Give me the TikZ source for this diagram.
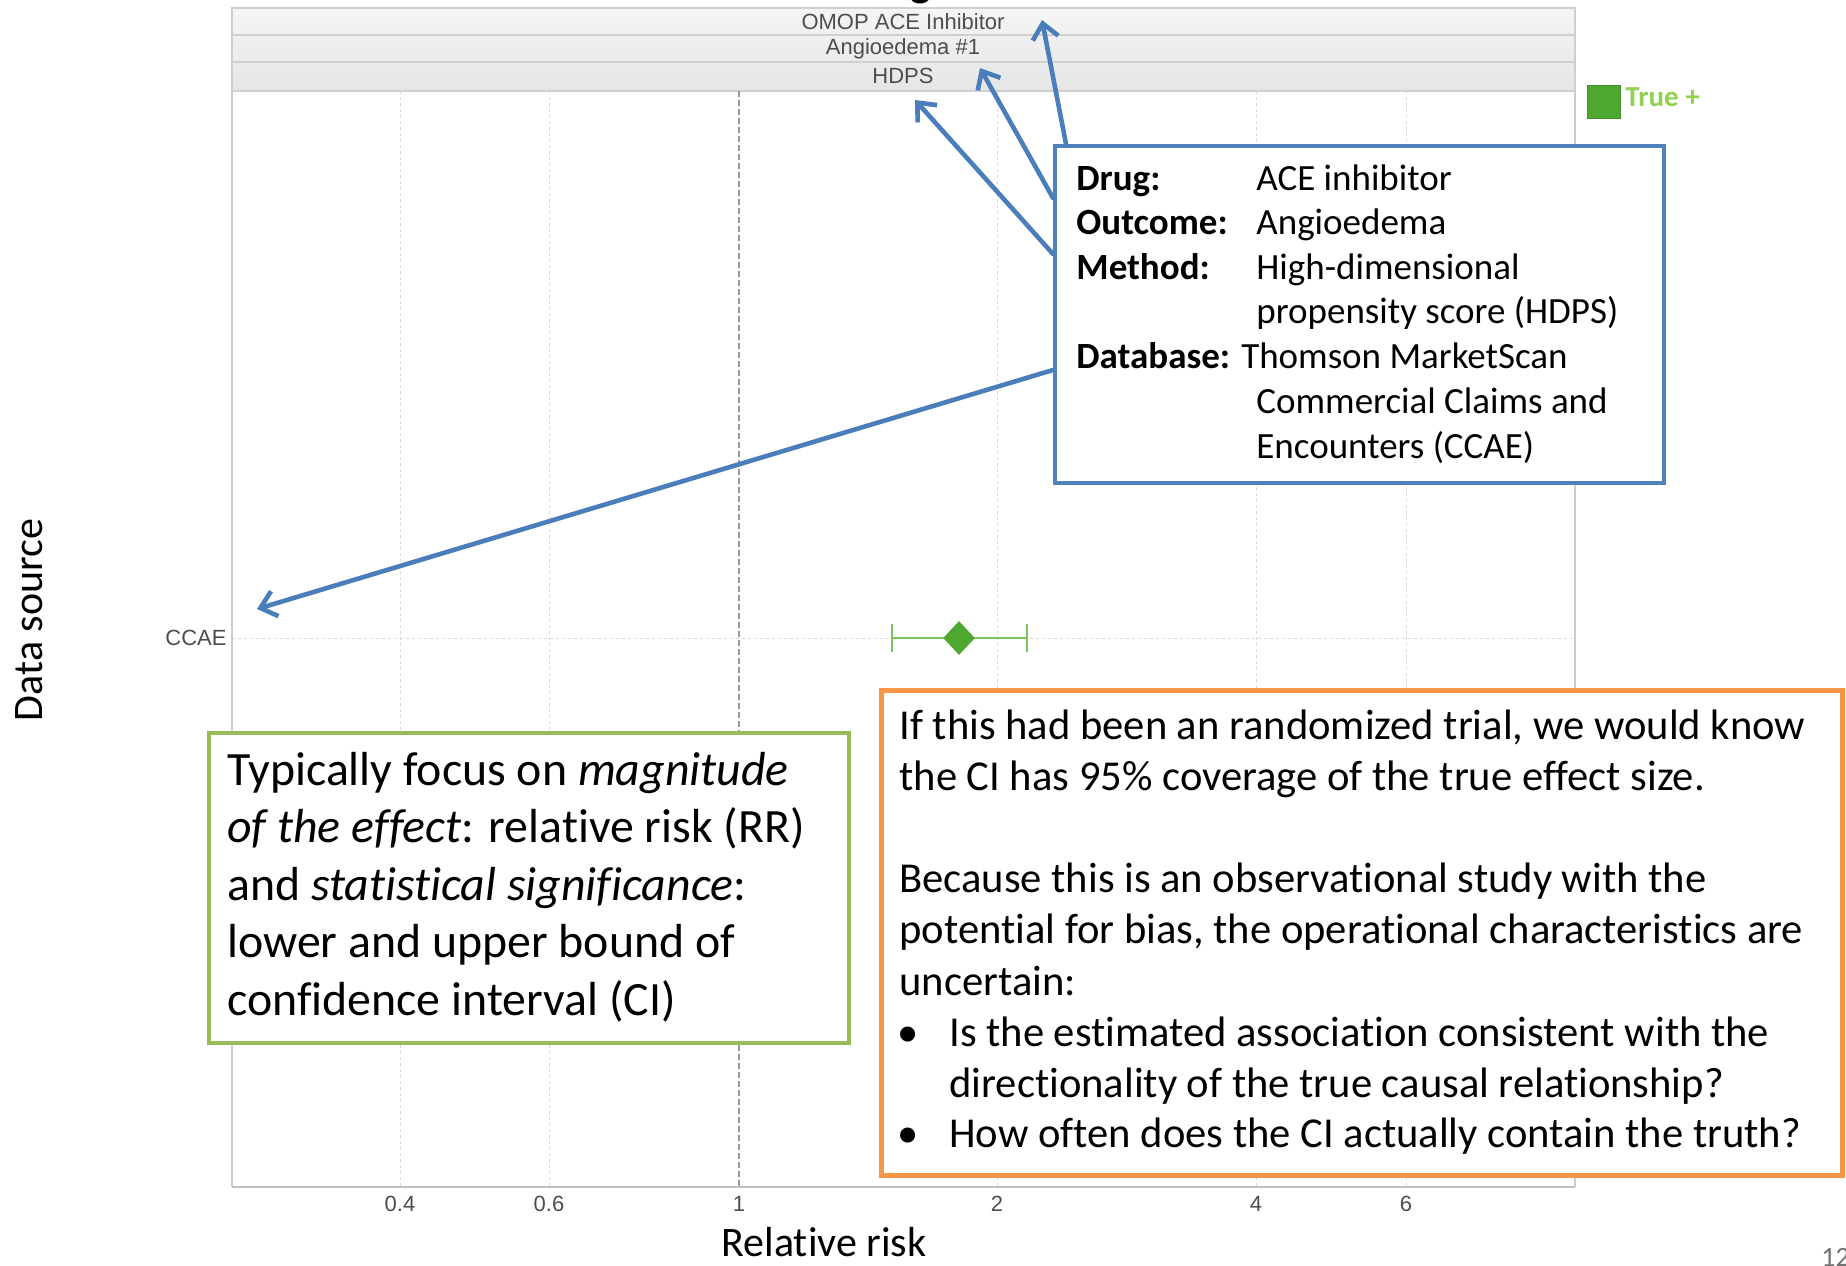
\documentclass[tikz,border=0pt]{standalone}
\usepackage{fontspec}
\setmainfont{Carlito}[Ligatures={TeX,NoCommon}]
\newfontfamily\arialf{Liberation Sans}
\usetikzlibrary{arrows.meta,calc,shapes.geometric}
\definecolor{arrowblue}{HTML}{4A7EBB}
\definecolor{boxblue}{HTML}{4F81BD}
\definecolor{boxgreen}{HTML}{9BBB59}
\definecolor{boxorange}{HTML}{F79646}
\definecolor{ptgreen}{HTML}{4EA72E}
\definecolor{cigreen}{HTML}{7DC55A}
\definecolor{legendgreen}{HTML}{92D050}
\definecolor{stripline}{HTML}{CFCFCF}
\definecolor{gridgray}{HTML}{D9D9D9}
\definecolor{axtext}{HTML}{4D4D4D}
\begin{document}
\begin{tikzpicture}[x=0.5pt,y=-0.5pt,
  striptxt/.style={font=\arialf\fontsize{11pt}{13pt}\selectfont, text=axtext, inner sep=0},
  ticktxt/.style={font=\arialf\fontsize{11pt}{13pt}\selectfont, text=axtext, inner sep=0},
  gridln/.style={gridgray, line width=0.5pt, dash pattern=on 1.5pt off 1.5pt},
  arr/.style={arrowblue, line width=2.3pt, line cap=round, -{Straight Barb[length=7.5pt,width=13pt,line width=2.3pt]}},
  boxtxt/.style={anchor=base west, inner sep=0, font=\fontsize{18.5pt}{22pt}\selectfont},
  greentxt/.style={anchor=base west, inner sep=0, font=\fontsize{23.9pt}{28pt}\selectfont},
  orangetxt/.style={anchor=base west, inner sep=0, font=\fontsize{21.3pt}{25pt}\selectfont},
  bigtxt/.style={inner sep=0, font=\fontsize{21pt}{25pt}\selectfont}
]
\useasboundingbox (0,0) rectangle (1846,1265);
\fill[white] (0,0) rectangle (1846,1265);

% title fragment
\node[anchor=base, inner sep=0, font=\bfseries\fontsize{22pt}{26pt}\selectfont] (ttl) at (921,-4) {g};

% strips
\shade[top color=white!96!black, bottom color=white!90!black] (232,8) rectangle (1575,91);
\draw[stripline, line width=0.8pt] (232,8) rectangle (1575,35);
\draw[stripline, line width=0.8pt] (232,35) rectangle (1575,62);
\draw[stripline, line width=0.8pt] (232,62) rectangle (1575,91);
\node[striptxt] (s1) at (903,21.5) {OMOP ACE Inhibitor};
\node[striptxt] (s2) at (903,48.5) {Angioedema \#1};
\node[striptxt] (s3) at (903,76) {HDPS};

% grid
\foreach \gx in {400,549,997,1256,1406} \draw[gridln] (\gx,91) -- (\gx,1187);
\draw[gridln] (232,638) -- (1575,638);
\draw[gray!80, line width=1pt, dash pattern=on 3pt off 1.5pt] (739,91) -- (739,1187);

% panel border
\draw[black!20, line width=0.8pt] (232,91) -- (232,1187);
\draw[black!20, line width=0.8pt] (1575,91) -- (1575,1187);
\draw[black!25, line width=1.3pt] (232,1187) -- (1575,1187);

% y label and CCAE
\node[anchor=east, striptxt] (ccae) at (227,638) {CCAE};
\node[bigtxt, rotate=90] (ylab) at (29,620) {Data source};

% CI
\draw[cigreen, line width=1.3pt] (892,638) -- (1027,638);
\draw[cigreen, line width=1.3pt] (892,624) -- (892,652);
\draw[cigreen, line width=1.3pt] (1027,624) -- (1027,652);
\node[diamond, fill=ptgreen, inner sep=0, minimum width=16pt, minimum height=17pt] (est) at (959,638) {};

% tick labels
\node[ticktxt] (x1) at (400,1204) {0.4};
\node[ticktxt] (x2) at (549,1204) {0.6};
\node[ticktxt] (x3) at (739,1204) {1};
\node[ticktxt] (x4) at (997,1204) {2};
\node[ticktxt] (x5) at (1256,1204) {4};
\node[ticktxt] (x6) at (1406,1204) {6};
\node[bigtxt, anchor=base] (xlab) at (824,1256) {Relative risk};

% legend
\node[fill=ptgreen, draw=ptgreen!85!black, line width=0.5pt, minimum size=16.5pt, inner sep=0, anchor=north west] (leg) at (1587,85) {};
\node[anchor=base west, inner sep=0, text=legendgreen, font=\bfseries\fontsize{14.5pt}{16pt}\selectfont] (legt) at (1625,106) {True +};

% page number
\node[anchor=base west, inner sep=0, text=black!55, font=\fontsize{14pt}{16pt}\selectfont] (pg) at (1821,1266) {12};

% targets
\coordinate (tA) at (1042,20);
\coordinate (tB) at (980,68);
\coordinate (tC) at (915,100);
\coordinate (tD) at (257,609);

% blue info box
\node[draw=boxblue, line width=2pt, fill=white, minimum width=304.5pt, minimum height=168.5pt, inner sep=0, anchor=north west] (info) at (1053,144) {};
\draw[arr] ($(info.north west)+(13,0)$) -- (tA);
\draw[arr] ($(info.north west)+(0,54)$) -- (tB);
\draw[arr] ($(info.north west)+(0,110)$) -- (tC);
\draw[arr] ($(info.north west)+(0,226)$) -- (tD);
\node[boxtxt] (b1) at (1076,190) {\textbf{Drug:}};
\node[boxtxt] (b2) at (1256,190) {ACE inhibitor};
\node[boxtxt] (b3) at (1076,234) {\textbf{Outcome:}};
\node[boxtxt] (b4) at (1256,234) {Angioedema};
\node[boxtxt] (b5) at (1076,279) {\textbf{Method:}};
\node[boxtxt] (b6) at (1256,279) {High-dimensional};
\node[boxtxt] (b7) at (1256,323) {propensity score (HDPS)};
\node[boxtxt] (b8) at (1076,368) {\textbf{Database:} Thomson MarketScan};
\node[boxtxt] (b9) at (1256,413) {Commercial Claims and};
\node[boxtxt] (b10) at (1256,458) {Encounters (CCAE)};

% green box
\node[draw=boxgreen, line width=2pt, fill=white, minimum width=320pt, minimum height=155pt, inner sep=0, anchor=north west] (gbox) at (207,731) {};
\node[greentxt] (g1) at (227,785) {Typically focus on \textit{magnitude}};
\node[greentxt] (g2) at (227,842) {\textit{of the effect}: relative risk (RR)};
\node[greentxt] (g3) at (227,900) {and \textit{statistical significance}:};
\node[greentxt] (g4) at (227,957) {lower and upper bound of};
\node[greentxt] (g5) at (227,1015) {confidence interval (CI)};

% orange box
\node[draw=boxorange, line width=2.5pt, fill=white, minimum width=480.5pt, minimum height=242.5pt, inner sep=0, anchor=north west] (obox) at (879,688) {};
\node[orangetxt] (o1) at (899,739) {If this had been an randomized trial, we would know};
\node[orangetxt] (o2) at (899,790) {the CI has 95\% coverage of the true effect size.};
\node[orangetxt] (o3) at (899,892) {Because this is an observational study with the};
\node[orangetxt] (o4) at (899,943) {potential for bias, the operational characteristics are};
\node[orangetxt] (o5) at (899,995) {uncertain:};
\node[orangetxt, anchor=base] (ob1) at (908,1046) {•};
\node[orangetxt] (o6) at (949,1046) {Is the estimated association consistent with the};
\node[orangetxt] (o7) at (949,1097) {directionality of the true causal relationship?};
\node[orangetxt, anchor=base] (ob2) at (908,1147) {•};
\node[orangetxt] (o8) at (949,1147) {How often does the CI actually contain the truth?};
\end{tikzpicture}
\end{document}
